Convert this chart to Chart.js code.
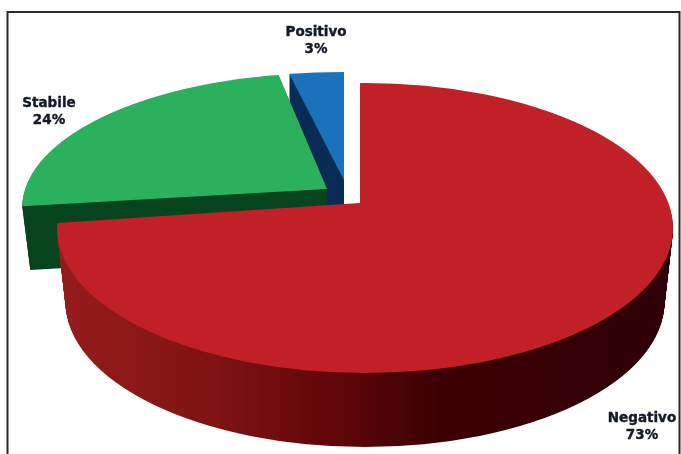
<!DOCTYPE html>
<html>
<head>
<meta charset="utf-8">
<style>html,body{margin:0;padding:0;background:#fff}canvas{display:block}</style>
<script src="https://cdn.jsdelivr.net/npm/chart.js@4"></script>
</head>
<body>
<canvas id="c" width="681" height="454"></canvas>
<script>
const categories = ['Negativo', 'Stabile', 'Positivo'];
const shares = [73, 24, 3];
const faceColors = ['#c02026', '#2bb15e', '#1a72bc'];
const wallColors = [null, '#07451f', '#0b2d57'];

const sliceLook = [
  {ax:360, ay:203, k:0.524, ex:365, ey:228, rx:308, ry:145, depth:74, shrink:0.115},
  {ax:327, ay:189, k:0.45,  ex:330, ey:208, rx:308, ry:135, depth:64, shrink:0.125},
  {ax:344, ay:180, k:0.37,  ex:344, ey:182, rx:298, ry:110, depth:70, shrink:0}
];
const labelSpots = [
  {x:642, y:418},
  {x:49,  y:103},
  {x:316, y:32}
];
const lineGap = 17.5;

const pie3d = {
  id: 'pie3d',
  beforeDraw(chart) {
    const ctx = chart.ctx;
    ctx.save();
    ctx.fillStyle = '#fff';
    ctx.fillRect(0, 0, chart.width, chart.height);
    ctx.strokeStyle = '#2a2a2a';
    ctx.lineWidth = 2;
    ctx.beginPath();
    ctx.moveTo(7.5, chart.height + 2);
    ctx.lineTo(7.5, 12);
    ctx.lineTo(679.5, 12);
    ctx.lineTo(679.5, chart.height + 2);
    ctx.stroke();
    ctx.restore();
  },
  beforeDatasetDraw(chart, args) {
    const ctx = chart.ctx;
    const arcs = chart.getDatasetMeta(args.index).data;
    const redWall = ctx.createLinearGradient(57, 0, 672, 0);
    redWall.addColorStop(0, '#961c1c');
    redWall.addColorStop(0.25, '#811313');
    redWall.addColorStop(0.47, '#5c0508');
    redWall.addColorStop(0.62, '#3c0004');
    redWall.addColorStop(1, '#2e0006');
    for (let i = arcs.length - 1; i >= 0; i--) {
      const el = arcs[i], g = sliceLook[i];
      const fill = wallColors[i] || redWall;
      for (let d = g.depth; d >= 1; d--) {
        ctx.save();
        ctx.beginPath();
        ctx.ellipse(g.ex, g.ey + d, g.rx - g.shrink * d, g.ry, 0, 0, Math.PI * 2);
        ctx.clip();
        ctx.beginPath();
        ctx.translate(g.ax, g.ay + d);
        ctx.scale(1, g.k);
        ctx.moveTo(0, 0);
        ctx.arc(0, 0, el.outerRadius, el.startAngle, el.endAngle);
        ctx.closePath();
        ctx.setTransform(1, 0, 0, 1, 0, 0);
        ctx.fillStyle = fill;
        ctx.fill();
        ctx.restore();
      }
      ctx.save();
      ctx.beginPath();
      ctx.ellipse(g.ex, g.ey, g.rx, g.ry, 0, 0, Math.PI * 2);
      ctx.clip();
      ctx.translate(g.ax, g.ay);
      ctx.scale(1, g.k);
      ctx.translate(-el.x, -el.y);
      el.draw(ctx);
      ctx.restore();
    }
    return false;
  },
  afterDraw(chart) {
    const ctx = chart.ctx;
    ctx.save();
    ctx.font = 'bold 13.5px "DejaVu Sans"';
    ctx.fillStyle = '#141a28';
    ctx.strokeStyle = '#141a28';
    ctx.lineWidth = 0.4;
    ctx.textAlign = 'center';
    ctx.textBaseline = 'middle';
    categories.forEach((name, i) => {
      const p = labelSpots[i];
      ctx.fillText(name, p.x, p.y);
      ctx.strokeText(name, p.x, p.y);
      ctx.fillText(shares[i] + '%', p.x, p.y + lineGap);
      ctx.strokeText(shares[i] + '%', p.x, p.y + lineGap);
    });
    ctx.restore();
  }
};

new Chart(document.getElementById('c'), {
  type: 'pie',
  data: {
    labels: categories,
    datasets: [{data: shares, backgroundColor: faceColors, borderWidth: 0, radius: 420}]
  },
  options: {
    responsive: false,
    animation: false,
    events: [],
    layout: {padding: 0},
    plugins: {legend: {display: false}, tooltip: {enabled: false}}
  },
  plugins: [pie3d]
});
</script>
</body>
</html>
